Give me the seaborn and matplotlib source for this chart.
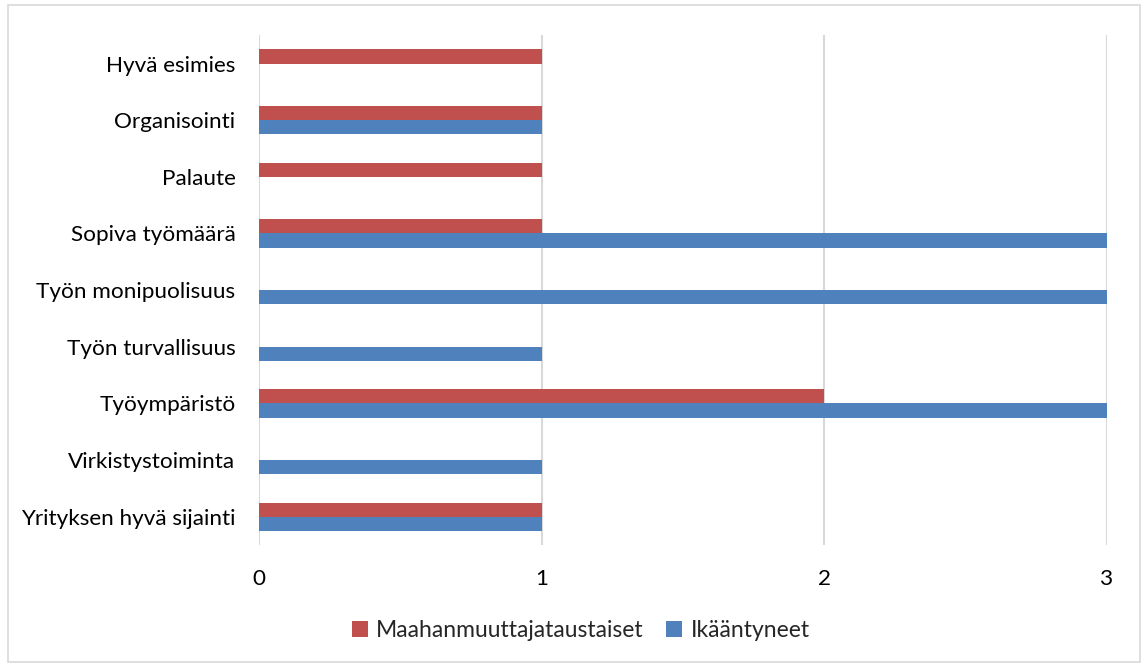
import matplotlib
matplotlib.use("Agg")
import matplotlib.pyplot as plt
import seaborn as sns
import pandas as pd
from matplotlib.patches import Rectangle

categories = ["Hyvä esimies", "Organisointi", "Palaute", "Sopiva työmäärä",
              "Työn monipuolisuus", "Työn turvallisuus", "Työympäristö",
              "Virkistystoiminta", "Yrityksen hyvä sijainti"]
series_names = ["Maahanmuuttajataustaiset", "Ikääntyneet"]
maahanmuuttajat = [1, 1, 1, 1, 0, 0, 2, 0, 1]
ikaantyneet = [0, 1, 0, 3, 3, 1, 3, 1, 1]
xticks = [0, 1, 2, 3]

colors = ["#C0504D", "#4F81BD"]

df = pd.DataFrame({
    "cat": categories * 2,
    "val": maahanmuuttajat + ikaantyneet,
    "series": [series_names[0]] * len(categories) + [series_names[1]] * len(categories),
})

sns.set_theme(style="white")
plt.rcParams["font.family"] = ["Lato", "DejaVu Sans"]

fig = plt.figure(figsize=(11.43, 6.64), dpi=100)
ax = fig.add_axes([0.2266, 0.1792, 0.9685 - 0.2266, 0.947 - 0.1792])

sns.barplot(data=df, y="cat", x="val", hue="series", hue_order=series_names,
            order=categories, palette=colors, orient="h", width=0.5,
            saturation=1, ax=ax, legend=True, errorbar=None, linewidth=0)

ax.set_xlim(0, 3)
ax.set_ylim(len(categories) - 0.5, -0.5)
ax.set_xticks(xticks)
ax.set_xticklabels([str(t) for t in xticks])
ax.set_xlabel("")
ax.set_ylabel("")
for s in ax.spines.values():
    s.set_visible(False)
ax.xaxis.grid(True, color="#d9d9d9", linewidth=1.5)
ax.set_axisbelow(True)
ax.tick_params(axis="both", length=0, labelsize=16.2, colors="black")
ax.tick_params(axis="x", pad=17)
ax.tick_params(axis="y", pad=17)

handles, labels = ax.get_legend_handles_labels()
ax.get_legend().remove()
fig.legend(handles, labels, loc="center", bbox_to_anchor=(0.508, 0.051), ncol=2,
           frameon=False, fontsize=16.5, handlelength=0.7, handleheight=0.7,
           handletextpad=0.35, columnspacing=1.0)

fig.patches.append(Rectangle((0.007, 0.003), 0.99, 0.99, transform=fig.transFigure,
                             fill=False, edgecolor="#d9d9d9", linewidth=1.2))

fig.savefig("out.png", dpi=100)
